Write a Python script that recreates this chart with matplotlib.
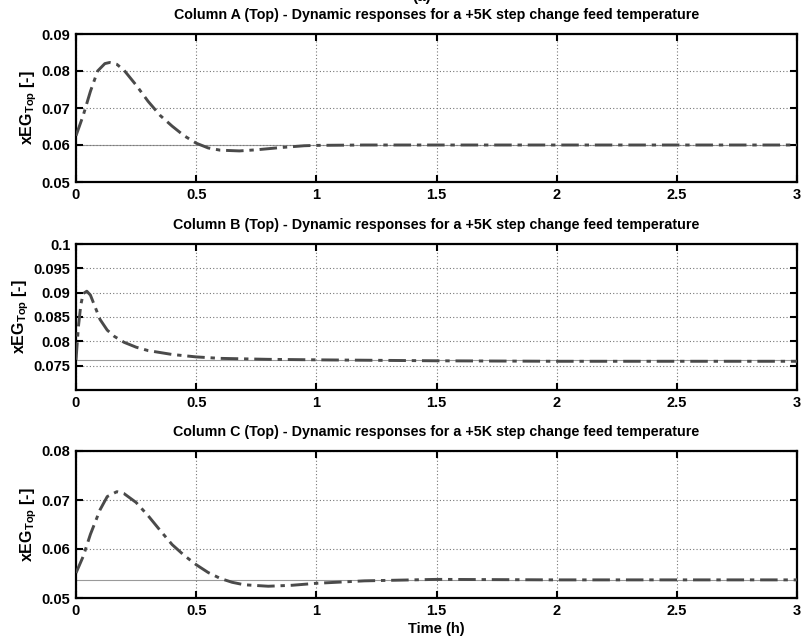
import matplotlib
matplotlib.use("Agg")
import matplotlib.pyplot as plt
from matplotlib import font_manager

# ---------------- data ----------------
titles = [
    "Column A (Top) - Dynamic responses for a +5K step change feed temperature",
    "Column B (Top) - Dynamic responses for a +5K step change feed temperature",
    "Column C (Top) - Dynamic responses for a +5K step change feed temperature",
]

t_A = [0, 0.03, 0.06, 0.09, 0.12, 0.14, 0.17, 0.2, 0.25, 0.3, 0.35, 0.4, 0.45,
       0.5, 0.55, 0.6, 0.68, 0.75, 0.85, 0.95, 1.0, 1.2, 1.5, 2.0, 2.5, 3.0]
x_A = [0.0625, 0.0680, 0.0745, 0.0800, 0.0820, 0.0823, 0.0818, 0.0802, 0.0762,
       0.0718, 0.0680, 0.0651, 0.0625, 0.0605, 0.0592, 0.0586, 0.0584, 0.0587,
       0.0593, 0.0598, 0.0599, 0.0600, 0.0600, 0.0600, 0.0600, 0.0600]
ref_A = 0.0600

t_B = [0, 0.01, 0.02, 0.03, 0.045, 0.06, 0.08, 0.1, 0.13, 0.16, 0.2, 0.25, 0.3,
       0.4, 0.5, 0.6, 0.8, 1.0, 1.5, 2.0, 2.5, 3.0]
x_B = [0.0762, 0.0830, 0.0875, 0.0898, 0.0903, 0.0895, 0.0870, 0.0845, 0.0823,
       0.0810, 0.0798, 0.0788, 0.0781, 0.0773, 0.0768, 0.0765, 0.0763, 0.0762,
       0.0760, 0.0759, 0.0759, 0.0759]
ref_B = 0.0762

t_C = [0, 0.03, 0.06, 0.1, 0.13, 0.17, 0.2, 0.25, 0.3, 0.35, 0.4, 0.45, 0.5,
       0.55, 0.6, 0.65, 0.7, 0.8, 0.9, 1.0, 1.2, 1.5, 2.0, 2.5, 3.0]
x_C = [0.0551, 0.0585, 0.0630, 0.0680, 0.0707, 0.0717, 0.0713, 0.0695, 0.0668,
       0.0638, 0.0609, 0.0587, 0.0568, 0.0552, 0.0540, 0.0532, 0.0527, 0.0524,
       0.0526, 0.0530, 0.0535, 0.0538, 0.0537, 0.0537, 0.0537]
ref_C = 0.0537

x_ticks = [0, 0.5, 1, 1.5, 2, 2.5, 3]
x_ticklabels = ["0", "0.5", "1", "1.5", "2", "2.5", "3"]

yticks_A = [0.05, 0.06, 0.07, 0.08, 0.09]
ylabels_A = ["0.05", "0.06", "0.07", "0.08", "0.09"]
yticks_B = [0.075, 0.08, 0.085, 0.09, 0.095, 0.1]
ylabels_B = ["0.075", "0.08", "0.085", "0.09", "0.095", "0.1"]
yticks_C = [0.05, 0.06, 0.07, 0.08]
ylabels_C = ["0.05", "0.06", "0.07", "0.08"]

ylims = [(0.05, 0.09), (0.07, 0.1), (0.05, 0.08)]

# ---------------- style ----------------
names = {f.name for f in font_manager.fontManager.ttflist}
fam = "Liberation Sans Narrow" if "Liberation Sans Narrow" in names else "Liberation Sans"
plt.rcParams["font.family"] = [fam, "DejaVu Sans"]
plt.rcParams["font.weight"] = "bold"
plt.rcParams["mathtext.fontset"] = "custom"
plt.rcParams["mathtext.rm"] = fam + ":bold"
plt.rcParams["mathtext.bf"] = fam + ":bold"
plt.rcParams["mathtext.it"] = fam + ":bold"

fig = plt.figure(figsize=(8.02, 6.4), dpi=100)
rects = [
    [76 / 802, 1 - 182 / 640, 721 / 802, 148 / 640],
    [76 / 802, 1 - 390 / 640, 721 / 802, 146 / 640],
    [76 / 802, 1 - 598 / 640, 721 / 802, 147 / 640],
]
series = [(t_A, x_A, ref_A, yticks_A, ylabels_A),
          (t_B, x_B, ref_B, yticks_B, ylabels_B),
          (t_C, x_C, ref_C, yticks_C, ylabels_C)]

line_col = "#4a4a4a"
for i, (rect, (t, x, ref, yt, yl)) in enumerate(zip(rects, series)):
    ax = fig.add_axes(rect)
    ax.axhline(ref, color="#9a9a9a", lw=0.8, zorder=1)
    ax.plot(t, x, color=line_col, lw=2.1, linestyle=(0, (6, 2, 1.5, 2)), zorder=3)
    ax.set_xlim(0, 3)
    ax.set_ylim(*ylims[i])
    ax.set_xticks(x_ticks)
    ax.set_xticklabels(x_ticklabels, fontsize=10.5, fontweight="bold")
    ax.set_yticks(yt)
    ax.set_yticklabels(yl, fontsize=10.5, fontweight="bold")
    ax.grid(True, color="#777777", linestyle=(0, (1, 2)), lw=0.8)
    ax.tick_params(direction="in", length=5, width=1.5, top=True, right=True, pad=4)
    for s in ax.spines.values():
        s.set_linewidth(1.6)
        s.set_color("black")
    ax.set_title(titles[i], fontsize=10.3, fontweight="bold", pad=11)
    ax.set_ylabel(r"xEG$_{\mathbf{Top}}$ [-]", fontsize=11.5, fontweight="bold", labelpad=2)
    if i == 2:
        ax.set_xlabel("Time (h)", fontsize=10.5, fontweight="bold", labelpad=3)

fig.text(422 / 802, 1 - 4 / 640, "(a)", ha="center", va="bottom", fontsize=11, fontweight="bold")

fig.savefig("out.png", dpi=100, facecolor="white")
